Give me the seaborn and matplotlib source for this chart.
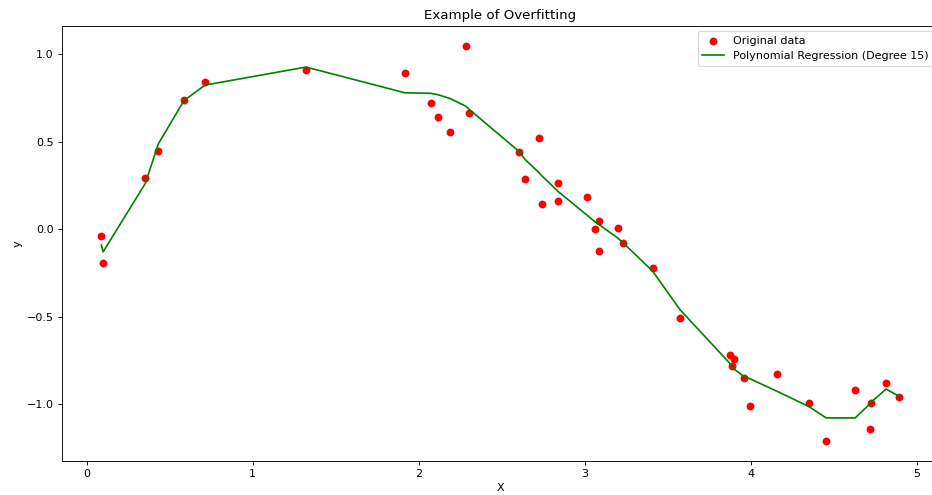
import numpy as np
import pandas as pd
import matplotlib
matplotlib.use("Agg")
import matplotlib.pyplot as plt
import seaborn as sns

# du lieu doc tu hinh
x_vals = [0.088, 0.098, 0.353, 0.431, 0.586, 0.713, 1.321, 1.917, 2.072, 2.116,
          2.188, 2.283, 2.305, 2.606, 2.640, 2.725, 2.743, 2.841, 2.842, 3.012,
          3.060, 3.085, 3.088, 3.200, 3.230, 3.410, 3.575, 3.873, 3.890, 3.900,
          3.960, 3.996, 4.160, 4.350, 4.456, 4.630, 4.720, 4.727, 4.817, 4.895]
y_vals = [-0.038, -0.194, 0.294, 0.445, 0.740, 0.838, 0.910, 0.892, 0.718, 0.639,
          0.557, 1.049, 0.662, 0.441, 0.289, 0.519, 0.146, 0.266, 0.160, 0.184,
          0.000, -0.122, 0.049, 0.007, -0.080, -0.220, -0.510, -0.720, -0.780, -0.740,
          -0.850, -1.010, -0.825, -0.990, -1.210, -0.920, -1.140, -0.990, -0.880, -0.960]
y_pred = [-0.090, -0.130, 0.262, 0.487, 0.735, 0.823, 0.926, 0.779, 0.776, 0.768,
          0.747, 0.703, 0.684, 0.443, 0.399, 0.323, 0.304, 0.215, 0.214, 0.082,
          0.044, 0.028, 0.026, -0.051, -0.076, -0.240, -0.460, -0.764, -0.787, -0.799,
          -0.841, -0.854, -0.926, -1.012, -1.078, -1.078, -0.997, -0.987, -0.913, -0.955]

df = pd.DataFrame({"X": x_vals, "y": y_vals, "pred": y_pred})

fig, ax = plt.subplots(figsize=(11.65, 6.1875), dpi=80)
sns.scatterplot(data=df, x="X", y="y", color="red", s=50, linewidth=0,
                label="Original data", ax=ax)
sns.lineplot(data=df, x="X", y="pred", color="green", estimator=None, sort=False,
             label="Polynomial Regression (Degree 15)", ax=ax)
ax.set_title("Example of Overfitting")
ax.set_xlabel("X")
ax.set_ylabel("y")
ax.legend(loc="upper right")
fig.subplots_adjust(left=0.066, right=1.0075, top=0.948, bottom=0.069)
fig.savefig("out.png", dpi=80)
